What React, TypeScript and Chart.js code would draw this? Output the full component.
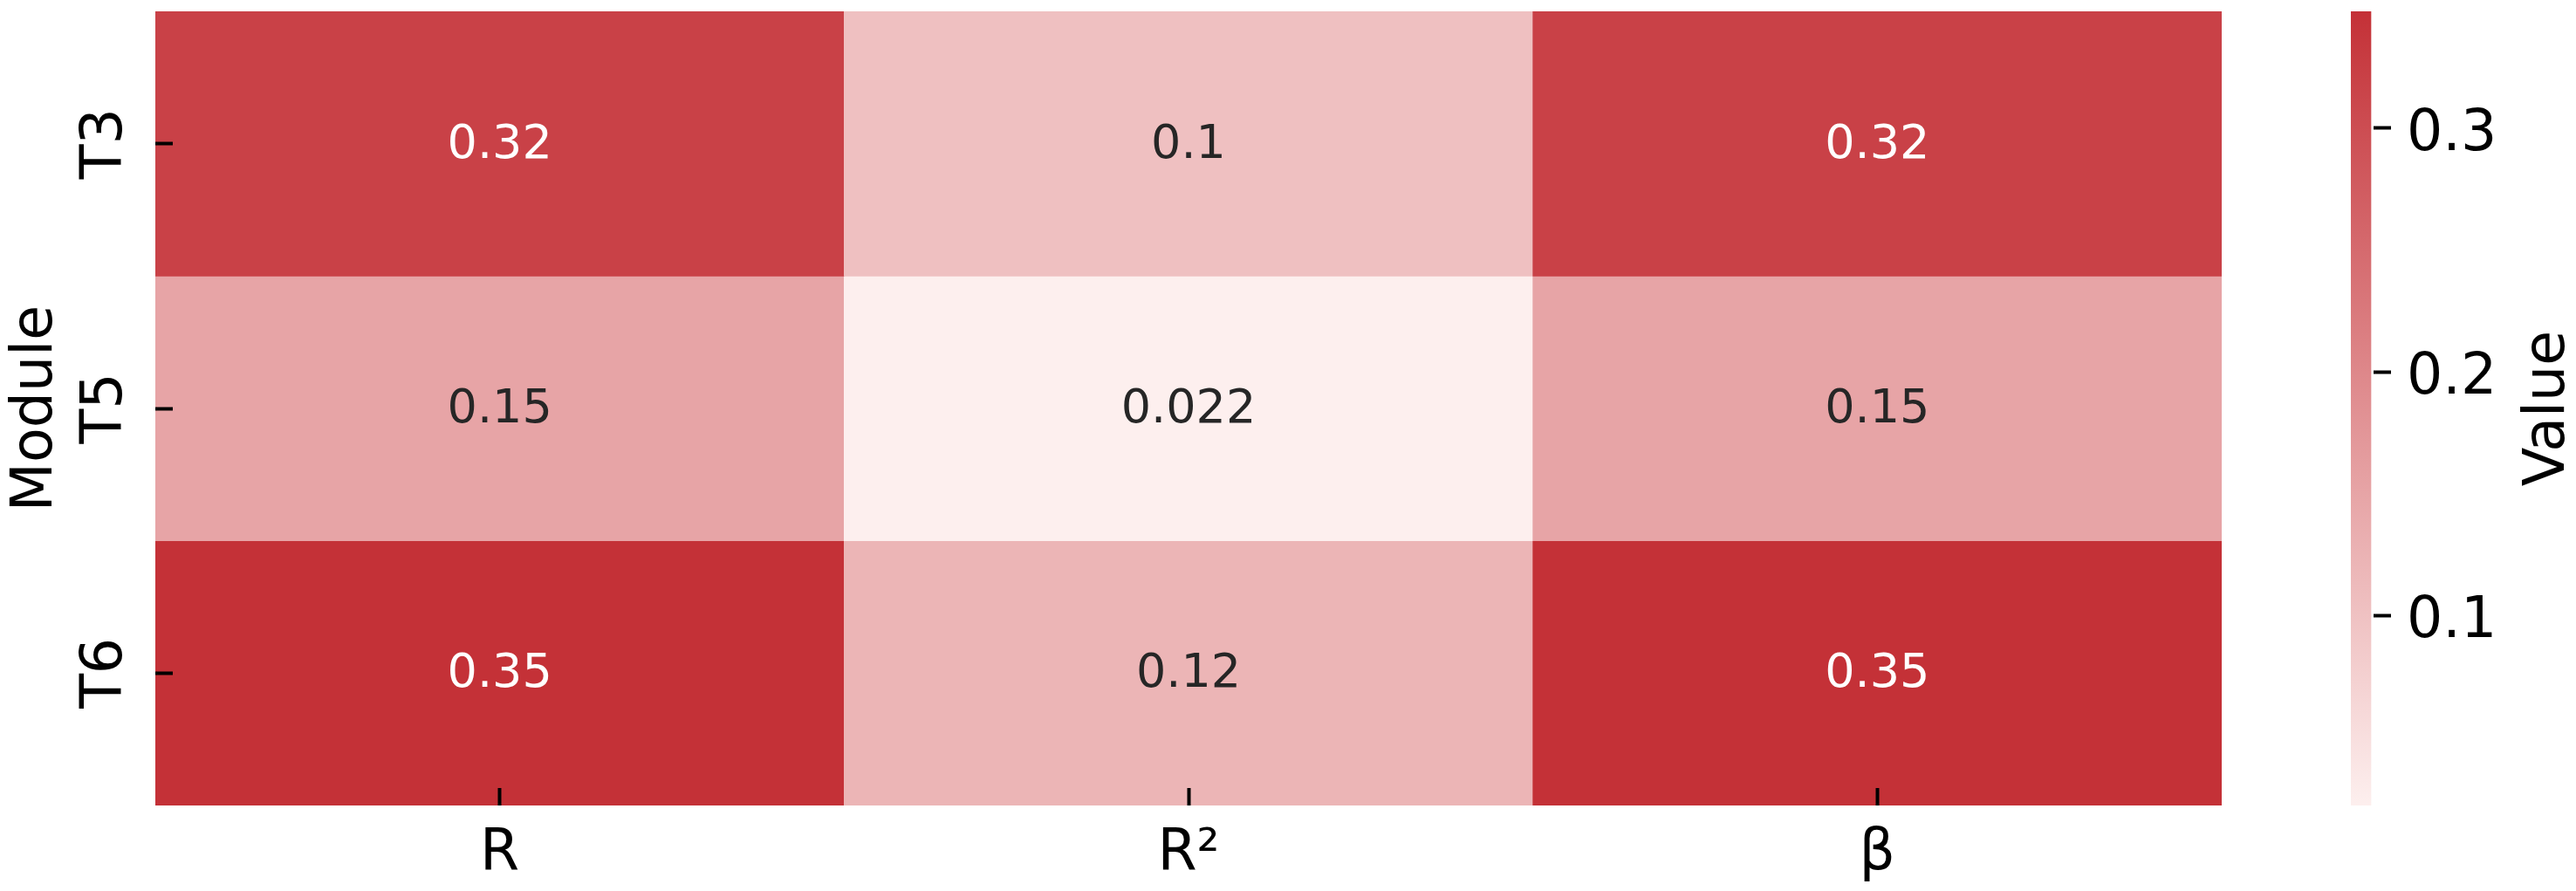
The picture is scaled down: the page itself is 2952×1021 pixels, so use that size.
import React, { useEffect, useRef } from "react";
import { Chart, registerables } from "chart.js";

Chart.register(...registerables);

// ---------------- data ----------------
const modules = ["T3", "T5", "T6"];
const metrics = ["R", "R²", "β"];
const valuesT3 = [0.32, 0.102, 0.32];
const valuesT5 = [0.15, 0.022, 0.15];
const valuesT6 = [0.348, 0.121, 0.348];
const colorbarTicks = [0.1, 0.2, 0.3];
const yTitle = "Module";
const colorbarTitle = "Value";

const rows = [valuesT3, valuesT5, valuesT6];
const allVals = rows.flat();
const vmin = Math.min(...allVals);
const vmax = Math.max(...allVals);

// ---------------- styles ----------------
const FONT = "'DejaVu Sans', 'Noto Sans', sans-serif";
const LIGHT = [253, 239, 238];
const DARK = [196, 49, 55];
const LABEL_SIZE = 65;
const ANNOT_SIZE = 54;

function mix(t: number): number[] {
  const c = Math.max(0, Math.min(1, t));
  return LIGHT.map((l, i) => Math.round(l + (DARK[i] - l) * c));
}
function rgb(c: number[]): string {
  return `rgb(${c[0]}, ${c[1]}, ${c[2]})`;
}
function colorFor(v: number): string {
  return rgb(mix((v - vmin) / (vmax - vmin)));
}
function luminance(c: number[]): number {
  const f = (x: number) => {
    const s = x / 255;
    return s <= 0.03928 ? s / 12.92 : Math.pow((s + 0.055) / 1.055, 2.4);
  };
  return 0.2126 * f(c[0]) + 0.7152 * f(c[1]) + 0.0722 * f(c[2]);
}
function fmt(v: number): string {
  return String(Number(v.toPrecision(2)));
}

const cellLabels = {
  id: "cellLabels",
  afterDatasetsDraw(chart: any) {
    const ctx = chart.ctx;
    ctx.save();
    ctx.font = `${ANNOT_SIZE}px ${FONT}`;
    ctx.textAlign = "center";
    ctx.textBaseline = "middle";
    chart.data.datasets.forEach((ds: any, di: number) => {
      const meta = chart.getDatasetMeta(di);
      meta.data.forEach((bar: any, j: number) => {
        const v = rows[di][j];
        const c = mix((v - vmin) / (vmax - vmin));
        ctx.fillStyle = luminance(c) > 0.408 ? "#262626" : "#ffffff";
        const p = bar.getCenterPoint();
        ctx.fillText(fmt(v), p.x, p.y + 2);
      });
    });
    ctx.restore();
  },
};

const colorbarLabel = {
  id: "colorbarLabel",
  afterDraw(chart: any) {
    const ctx = chart.ctx;
    const area = chart.chartArea;
    const ys = chart.scales.y;
    ctx.save();
    ctx.translate(ys.left + 181, (area.top + area.bottom) / 2);
    ctx.rotate(-Math.PI / 2);
    ctx.font = `${LABEL_SIZE}px ${FONT}`;
    ctx.fillStyle = "#000000";
    ctx.textAlign = "center";
    ctx.textBaseline = "middle";
    ctx.fillText(colorbarTitle, 0, 0);
    ctx.restore();
  },
};

const tickGrid = {
  display: true,
  drawOnChartArea: false,
  drawTicks: true,
  tickLength: -20,
  tickWidth: 4,
  tickColor: "#000000",
  offset: false,
  z: 1,
};

function noPad(s: any) {
  s.paddingTop = 0;
  s.paddingBottom = 0;
  s.paddingLeft = 0;
  s.paddingRight = 0;
}

export default function App() {
  const mainRef = useRef<HTMLCanvasElement | null>(null);
  const barRef = useRef<HTMLCanvasElement | null>(null);

  useEffect(() => {
    Chart.defaults.font.family = FONT;
    const labelFont = { family: FONT, size: LABEL_SIZE };

    const main = new Chart(mainRef.current as HTMLCanvasElement, {
      type: "bar",
      data: {
        labels: metrics,
        datasets: rows.map((vals, i) => ({
          label: modules[i],
          data: vals.map(() => [i, i + 1]),
          backgroundColor: vals.map(colorFor),
          borderWidth: 0,
          barPercentage: 1,
          categoryPercentage: 1,
          grouped: false,
        })) as any,
      },
      options: {
        animation: false,
        responsive: false,
        maintainAspectRatio: false,
        layout: { padding: { top: 13, left: 0, right: 0, bottom: 0 } },
        plugins: { legend: { display: false }, tooltip: { enabled: false } },
        scales: {
          x: {
            type: "category",
            position: "bottom",
            offset: true,
            grid: tickGrid as any,
            border: { display: false },
            ticks: {
              font: labelFont,
              color: "#000000",
              padding: 37,
              maxRotation: 0,
              minRotation: 0,
              autoSkip: false,
            },
            afterFit: (s: any) => {
              s.height = 98;
              noPad(s);
            },
          },
          y: {
            type: "linear",
            position: "left",
            min: 0,
            max: 3,
            reverse: true,
            grid: tickGrid as any,
            border: { display: false },
            ticks: {
              font: labelFont,
              color: "#000000",
              padding: 35,
              minRotation: 90,
              maxRotation: 90,
              crossAlign: "center",
              autoSkip: false,
              callback: (_v: any, i: number) => modules[i],
            },
            afterBuildTicks: (s: any) => {
              s.ticks = modules.map((_m, i) => ({ value: i + 0.5 }));
            },
            afterFit: (s: any) => {
              s.width = 178;
              noPad(s);
            },
            title: {
              display: true,
              text: yTitle,
              font: labelFont,
              color: "#000000",
              padding: { top: 3, bottom: 0 },
            },
          },
        },
      },
      plugins: [cellLabels],
    } as any);

    const bar = new Chart(barRef.current as HTMLCanvasElement, {
      type: "bar",
      data: {
        labels: [""],
        datasets: [
          {
            data: [[vmin, vmax]],
            borderWidth: 0,
            barPercentage: 1,
            categoryPercentage: 1,
            backgroundColor: (context: any) => {
              const chart = context.chart;
              const { ctx, chartArea, scales } = chart;
              if (!chartArea) return rgb(DARK);
              const ys = scales.y;
              const g = ctx.createLinearGradient(
                0,
                ys.getPixelForValue(vmin),
                0,
                ys.getPixelForValue(vmax)
              );
              g.addColorStop(0, rgb(LIGHT));
              g.addColorStop(1, rgb(DARK));
              return g;
            },
          },
        ] as any,
      },
      options: {
        animation: false,
        responsive: false,
        maintainAspectRatio: false,
        layout: { padding: { top: 13, bottom: 98, left: 0, right: 0 } },
        plugins: { legend: { display: false }, tooltip: { enabled: false } },
        scales: {
          x: { display: false, offset: false },
          y: {
            type: "linear",
            position: "right",
            min: vmin,
            max: vmax,
            grid: tickGrid as any,
            border: { display: false },
            ticks: {
              font: labelFont,
              color: "#000000",
              padding: 38,
              labelOffset: 8,
              autoSkip: false,
              callback: (v: any) => String(Number(Number(v).toFixed(2))),
            },
            afterBuildTicks: (s: any) => {
              s.ticks = colorbarTicks.map((v) => ({ value: v }));
            },
            afterFit: (s: any) => {
              s.width = 212;
              noPad(s);
            },
          },
        },
      },
      plugins: [colorbarLabel],
    } as any);

    return () => {
      main.destroy();
      bar.destroy();
    };
  }, []);

  return (
    <div
      style={{
        position: "absolute",
        left: 0,
        top: 0,
        width: 2952,
        height: 1021,
        background: "#ffffff",
        overflow: "hidden",
      }}
    >
      <canvas
        ref={mainRef}
        width={2546}
        height={1021}
        style={{ position: "absolute", left: 0, top: 0, width: 2546, height: 1021 }}
      />
      <canvas
        ref={barRef}
        width={258}
        height={1021}
        style={{ position: "absolute", left: 2694, top: 0, width: 258, height: 1021 }}
      />
    </div>
  );
}
